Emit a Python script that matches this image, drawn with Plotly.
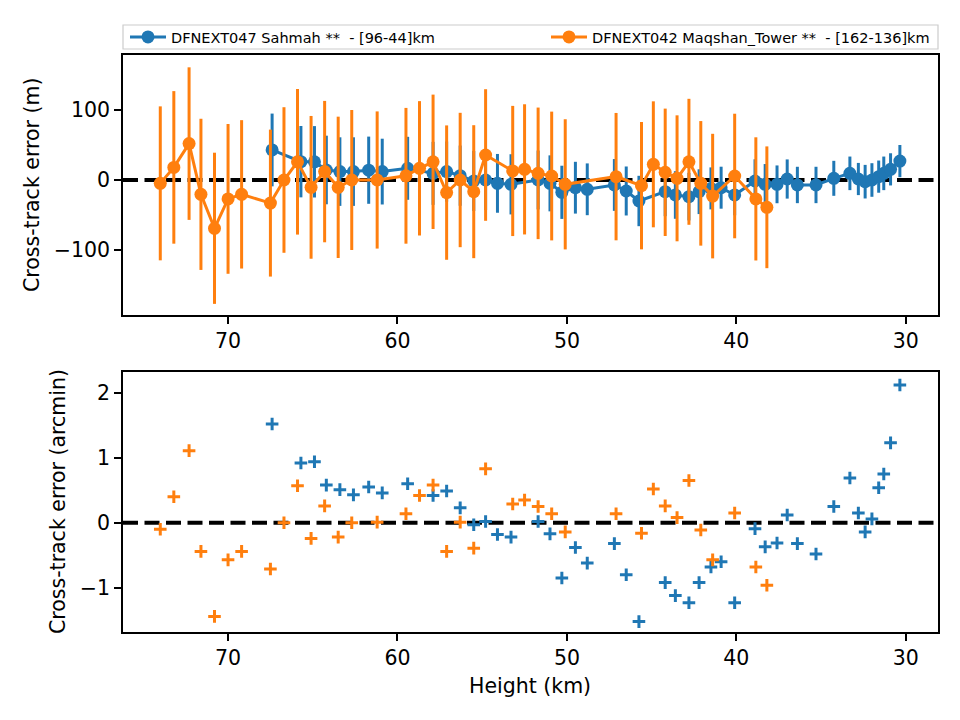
import plotly.graph_objects as go

# ---------------- data ----------------
blue_name = "DFNEXT047 Sahmah **  - [96-44]km"
orange_name = "DFNEXT042 Maqshan_Tower **  - [162-136]km"

blue_h = [67.4, 65.7, 64.9, 64.2, 63.4, 62.6, 61.7, 60.9, 59.4, 57.9, 57.1, 56.3, 55.5, 54.8,
          54.1, 53.3, 51.7, 51.0, 50.3, 49.5, 48.8, 47.2, 46.5, 45.75, 44.2, 43.6, 42.8, 42.2,
          41.5, 40.9, 40.1, 38.9, 38.3, 37.6, 37.0, 36.4, 35.3, 34.25, 33.3, 32.8, 32.4, 32.0,
          31.6, 31.3, 30.9, 30.35]
blue_m = [42.9, 26.2, 26.0, 14.3, 12.0, 12.0, 14.0, 12.0, 16.7, 9.5, 12.0, 6.2, -1.4, 0.0,
          -4.8, -6.2, 0.0, -4.8, -17.6, -11.0, -13.3, -7.1, -15.7, -30.0, -16.7, -21.4, -23.8, -16.7,
          -12.0, -11.0, -21.4, -1.4, -6.2, -6.2, 1.4, -7.1, -7.1, 2.4, 9.5, 1.4, -2.4, 0.0,
          4.8, 9.5, 15.2, 27.0]
blue_err = [52, 51, 51, 49, 49, 49, 48, 47, 45, 45, 43, 43, 43, 43,
            42, 43, 42, 40, 38, 37, 37, 37, 35, 36, 35, 34, 34, 32,
            30, 30, 29, 31, 29, 27, 28, 26, 26, 25, 24, 23, 24, 24,
            23, 24, 23, 23]
blue_arcmin = [1.52, 0.92, 0.94, 0.58, 0.51, 0.43, 0.55, 0.46, 0.60, 0.42, 0.49, 0.23, -0.03, 0.02,
               -0.18, -0.22, 0.02, -0.17, -0.85, -0.38, -0.62, -0.32, -0.80, -1.52, -0.92, -1.12, -1.23, -0.92,
               -0.68, -0.60, -1.23, -0.09, -0.37, -0.31, 0.12, -0.32, -0.48, 0.25, 0.69, 0.15, -0.14, 0.06,
               0.54, 0.75, 1.23, 2.12]

orange_h = [74.0, 73.2, 72.3, 71.6, 70.8, 70.0, 69.2, 67.5, 66.7, 65.9, 65.1, 64.3, 63.5, 62.7,
            61.2, 59.5, 58.7, 57.9, 57.1, 56.3, 55.5, 54.8, 53.2, 52.5, 51.7, 50.9, 50.1, 47.1,
            45.6, 44.9, 44.2, 43.5, 42.8, 42.1, 41.4, 40.1, 38.85, 38.2]
orange_m = [-4.8, 18.0, 52.0, -20.5, -69.0, -27.0, -20.5, -33.0, 0.0, 26.0, -10.5, 12.0, -10.5, 0.0,
            0.0, 6.0, 16.7, 26.0, -18.0, 0.0, -16.7, 35.7, 12.9, 15.2, 9.5, 5.7, -6.2, 4.8,
            -8.1, 22.4, 11.0, 2.4, 26.0, -4.8, -23.0, 5.7, -27.0, -39.0]
orange_err = [110, 109, 109, 108, 108, 107, 106, 105, 104, 104, 102, 101, 101, 100,
              98, 97, 96, 96, 96, 96, 95, 94, 93, 93, 94, 92, 93, 91,
              91, 90, 91, 90, 90, 89, 89, 89, 88, 87]
orange_arcmin = [-0.10, 0.40, 1.11, -0.44, -1.44, -0.57, -0.44, -0.71, 0.0, 0.57, -0.24, 0.26, -0.22, 0.0,
                 0.01, 0.14, 0.42, 0.58, -0.44, 0.01, -0.39, 0.83, 0.29, 0.35, 0.25, 0.14, -0.14, 0.14,
                 -0.16, 0.52, 0.26, 0.08, 0.65, -0.11, -0.57, 0.15, -0.68, -0.96]

x_ticks = [70, 60, 50, 40, 30]
y1_ticks = [-100, 0, 100]
y2_ticks = [-1, 0, 1, 2]

BLUE = "#1f77b4"
ORANGE = "#ff7f0e"
FONT = "DejaVu Sans"

# ---------------- figure ----------------
fig = go.Figure()

fig.add_trace(go.Scatter(
    x=blue_h, y=blue_m, mode="lines+markers", name=blue_name,
    line=dict(color=BLUE, width=3), marker=dict(color=BLUE, size=13),
    error_y=dict(type="data", array=blue_err, color=BLUE, thickness=3, width=0),
    xaxis="x", yaxis="y", legend="legend"))
fig.add_trace(go.Scatter(
    x=orange_h, y=orange_m, mode="lines+markers", name=orange_name,
    line=dict(color=ORANGE, width=3), marker=dict(color=ORANGE, size=13),
    error_y=dict(type="data", array=orange_err, color=ORANGE, thickness=3, width=0),
    xaxis="x", yaxis="y", legend="legend2"))

fig.add_trace(go.Scatter(
    x=blue_h, y=blue_arcmin, mode="markers", showlegend=False,
    marker=dict(symbol="cross-thin", size=9, line=dict(color=BLUE, width=3)),
    xaxis="x2", yaxis="y2"))
fig.add_trace(go.Scatter(
    x=orange_h, y=orange_arcmin, mode="markers", showlegend=False,
    marker=dict(symbol="cross-thin", size=9, line=dict(color=ORANGE, width=3)),
    xaxis="x2", yaxis="y2"))

L, R, T, B = 123, 22, 55, 88
W, H = 960, 720
ph = H - T - B
pw = W - L - R
top_lo = (H - B - 315) / ph
bot_hi = (H - B - 372) / ph

axis_common = dict(showline=True, linecolor="black", linewidth=1.7, mirror=True,
                   ticks="outside", ticklen=7, tickwidth=1.7, tickcolor="black",
                   showgrid=False, zeroline=False,
                   tickfont=dict(family=FONT, size=20.5, color="black"))

fig.update_layout(
    width=W, height=H,
    margin=dict(l=L, r=R, t=T, b=B, autoexpand=False),
    paper_bgcolor="white", plot_bgcolor="white",
    font=dict(family=FONT, color="black"),
    xaxis=dict(domain=[0, 1], range=[76.2, 28.1], tickvals=x_ticks, anchor="y", **axis_common),
    yaxis=dict(domain=[top_lo, 1], range=[-192.9, 178.6], tickvals=y1_ticks, anchor="x", **axis_common),
    xaxis2=dict(domain=[0, 1], range=[76.2, 28.1], tickvals=x_ticks, anchor="y2", **axis_common),
    yaxis2=dict(domain=[0, bot_hi], range=[-1.68, 2.32], tickvals=y2_ticks, anchor="x2", **axis_common),
    legend=dict(x=(2) / pw, y=(H - B - 37) / ph, xanchor="left", yanchor="middle",
                orientation="h", bgcolor="rgba(0,0,0,0)", borderwidth=0, itemwidth=36,
                font=dict(family=FONT, size=14.5, color="black")),
    legend2=dict(x=(596 - 48 - L - 2) / pw, y=(H - B - 37) / ph, xanchor="left", yanchor="middle",
                 orientation="h", bgcolor="rgba(0,0,0,0)", borderwidth=0, itemwidth=36,
                 font=dict(family=FONT, size=14.5, color="black")),
    showlegend=True,
)

# zero lines
for xr, yr in (("x domain", "y"), ("x2 domain", "y2")):
    fig.add_shape(type="line", xref=xr, yref=yr, x0=0, x1=1, y0=0, y1=0,
                  line=dict(color="black", width=4, dash="15px,6.5px"), layer="below")

# legend frame
fig.add_shape(type="rect", xref="paper", yref="paper",
              x0=0, x1=1, y0=(H - B - 49) / ph, y1=(H - B - 25) / ph,
              line=dict(color="#cccccc", width=1.2), fillcolor="rgba(255,255,255,0.8)", layer="below")

# axis titles
fig.add_annotation(text="Cross-track error (m)", xref="paper", yref="paper",
                   x=(32 - L) / pw, y=(H - B - 185) / ph, textangle=-90,
                   showarrow=False, xanchor="center", yanchor="middle",
                   font=dict(family=FONT, size=20.5, color="black"))
fig.add_annotation(text="Cross-track error (arcmin)", xref="paper", yref="paper",
                   x=(58 - L) / pw, y=(H - B - 502) / ph, textangle=-90,
                   showarrow=False, xanchor="center", yanchor="middle",
                   font=dict(family=FONT, size=20.5, color="black"))
fig.add_annotation(text="Height (km)", xref="paper", yref="paper",
                   x=(530 - L) / pw, y=(H - B - 686) / ph,
                   showarrow=False, xanchor="center", yanchor="middle",
                   font=dict(family=FONT, size=20.5, color="black"))

fig.write_html("out.html")
